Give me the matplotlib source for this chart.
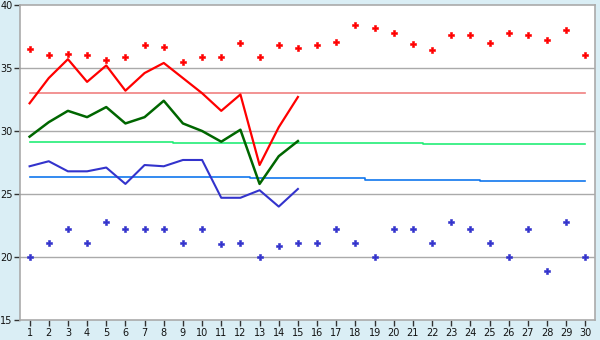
import matplotlib
matplotlib.use("Agg")
import matplotlib.pyplot as plt

days = list(range(1, 31))
line_days = list(range(1, 16))

red_line = [32.2, 34.2, 35.7, 33.9, 35.2, 33.2, 34.6, 35.4, 34.2, 33.0,
            31.6, 32.9, 27.3, 30.3, 32.7]
green_line = [29.55, 30.7, 31.6, 31.1, 31.9, 30.6, 31.1, 32.4, 30.6, 30.0,
              29.15, 30.1, 25.8, 28.0, 29.2]
blue_line = [27.2, 27.6, 26.8, 26.8, 27.1, 25.8, 27.3, 27.2, 27.7, 27.7,
             24.7, 24.7, 25.3, 24.0, 25.4]

red_points = [36.5, 36.0, 36.1, 36.0, 35.6, 35.9, 36.8, 36.7, 35.5, 35.9,
              35.9, 37.0, 35.9, 36.8, 36.6, 36.8, 37.1, 38.4, 38.2, 37.8,
              36.9, 36.4, 37.6, 37.6, 37.0, 37.8, 37.6, 37.2, 38.0, 36.0]
blue_points = [20.0, 21.1, 22.2, 21.1, 22.8, 22.2, 22.2, 22.2, 21.1, 22.2,
               21.0, 21.1, 20.0, 20.9, 21.1, 21.1, 22.2, 21.1, 20.0, 22.2,
               22.2, 21.1, 22.8, 22.2, 21.1, 20.0, 22.2, 18.9, 22.8, 20.0]

red_mean = [33.0] * 30
green_mean = [29.1] * 8 + [29.02] * 13 + [28.95] * 9
blue_mean = [26.37] * 6 + [26.32] * 6 + [26.24] * 6 + [26.1] * 6 + [26.0] * 6

y_ticks = [15, 20, 25, 30, 35, 40]

bg = "#daeef5"
fig = plt.figure(figsize=(6, 3.4), dpi=100, facecolor=bg)
ax = fig.add_axes([20 / 600, 20 / 340, 575 / 600, 315 / 340])
ax.set_facecolor("white")

for y in y_ticks[1:-1]:
    ax.axhline(y, color="#aaaaaa", lw=1, zorder=0)

ax.plot(days, red_mean, color="#f08080", lw=1.2, drawstyle="steps-mid", zorder=1)
ax.plot(days, green_mean, color="#22ee77", lw=1.2, drawstyle="steps-mid", zorder=1)
ax.plot(days, blue_mean, color="#1177ee", lw=1.2, drawstyle="steps-mid", zorder=1)

ax.plot(line_days, red_line, color="#ff0000", lw=1.6, zorder=3)
ax.plot(line_days, green_line, color="#006600", lw=1.8, zorder=3)
ax.plot(line_days, blue_line, color="#3333cc", lw=1.5, zorder=3)

ax.plot(days, red_points, ls="none", marker="P", ms=5, color="#ff0000",
        markeredgewidth=0.4, zorder=4)
ax.plot(days, blue_points, ls="none", marker="P", ms=5, color="#3333cc",
        markeredgewidth=0.4, zorder=4)

ax.set_xlim(0.5, 30.5)
ax.set_ylim(15, 40)
ax.set_xticks(days)
ax.set_xticklabels([str(d) for d in days])
ax.set_yticks(y_ticks)
ax.tick_params(axis="both", direction="out", length=4, width=1,
               color="#333333", labelsize=7, pad=1.5, labelcolor="#111111")
for s in ax.spines.values():
    s.set_color("#aaaaaa")
    s.set_linewidth(1.2)

fig.savefig("out.png", dpi=100, facecolor=bg)
